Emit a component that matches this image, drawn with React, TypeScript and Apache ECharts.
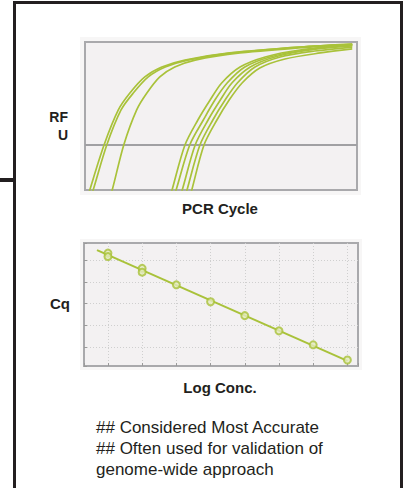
import React, { useEffect, useRef } from "react";
import * as echarts from "echarts";

// Amplification curves: [PCR cycle, RFU]
const curveG1a = [[0.3, -6.8], [0.7, 0], [2.8, 30.4], [4.9, 54.1], [6.6, 65.5], [8.8, 76.4], [11.3, 83.1], [14.7, 87.8], [21.3, 92.6], [31.6, 96.6], [39.3, 98.6]];
const curveG1b = [[0.7, -6.8], [1.2, 0], [3.2, 30.4], [5.3, 54.1], [7.1, 65.5], [9.3, 76.4], [11.8, 83.1], [15.1, 87.8], [21.6, 92.6], [31.6, 96.6], [39.3, 98.6]];
const curveG1c = [[3.5, -6.8], [4.0, 0], [5.7, 30.4], [7.6, 54.1], [9.1, 65.5], [11.0, 76.4], [13.2, 83.1], [16.2, 87.8], [22.8, 92.6], [33.1, 96.6], [39.3, 98.0]];
const curveG2a = [[12.4, -6.8], [12.8, 0], [14.7, 30.4], [16.6, 47.3], [18.4, 60.8], [20.1, 72.3], [22.8, 83.1], [26.5, 89.9], [31.6, 94.6], [39.3, 98.0]];
const curveG2b = [[12.9, -6.8], [13.4, 0], [15.4, 30.4], [17.4, 47.3], [19.1, 60.8], [20.9, 72.3], [23.5, 83.1], [27.2, 89.9], [32.4, 94.6], [39.3, 98.0]];
const curveG2c = [[13.8, -6.8], [14.3, 0], [16.2, 30.4], [18.1, 47.3], [19.9, 60.8], [21.6, 72.3], [24.3, 83.1], [27.9, 89.9], [33.1, 94.6], [39.3, 97.3]];
const curveG2d = [[14.6, -6.8], [15.0, 0], [16.9, 30.4], [18.8, 47.3], [20.6, 60.8], [22.4, 72.3], [25.0, 83.1], [28.7, 89.9], [33.8, 93.9], [39.3, 96.6]];
const curveG2e = [[15.3, -6.8], [15.7, 0], [17.5, 30.4], [19.4, 47.3], [21.2, 60.8], [23.1, 72.3], [25.7, 82.4], [29.4, 88.5], [34.6, 92.6], [39.3, 95.3]];
const curves = [curveG1a, curveG1b, curveG1c, curveG2a, curveG2b, curveG2c, curveG2d, curveG2e];
const thresholdRFU = 30.4;

// Standard curve: log concentration vs Cq
const logConc = [1, 1, 2, 2, 3, 4, 5, 6, 7, 8];
const cqValues = [31.6, 30.8, 28.1, 27.2, 24.3, 20.4, 17.2, 13.7, 10.5, 7.0];
const fitX = [0.68, 8];
const fitY = [32.3, 6.8];

const textLines = [
  "## Considered Most Accurate",
  "## Often used for validation of",
  "genome-wide approach",
];

const GREEN = "#a9c23a";
const FONT = "'Liberation Sans', Arial, Helvetica, sans-serif";

export default function App() {
  const ref = useRef<HTMLDivElement>(null);
  useEffect(() => {
    const chart = echarts.init(ref.current!, null, { renderer: "svg" });
    const curveSeries = curves.map((c) => ({
      type: "line",
      xAxisIndex: 0,
      yAxisIndex: 0,
      data: c,
      smooth: 0.3,
      symbol: "none",
      clip: true,
      lineStyle: { color: GREEN, width: 1.7 },
      z: 3,
    }));
    chart.setOption({
      animation: false,
      backgroundColor: "#ffffff",
      grid: [
        { left: 85, top: 42, width: 272, height: 148, show: true, backgroundColor: "#f3f1f2", borderColor: "#a9a9ac", borderWidth: 2 },
        { left: 84, top: 243, width: 274, height: 123, show: true, backgroundColor: "#f3f1f2", borderColor: "#a9a9ac", borderWidth: 2 },
      ],
      xAxis: [
        { type: "value", gridIndex: 0, min: 0, max: 40, show: false },
        {
          type: "value", gridIndex: 1, min: 0.3, max: 8.31, minInterval: 1, maxInterval: 1,
          axisLine: { show: false }, axisLabel: { show: false },
          axisTick: { show: true, inside: true, length: 3, lineStyle: { color: "#9a9a9a" } },
          splitLine: { show: true, showMinLine: false, showMaxLine: false, lineStyle: { color: "#cfcfcf", type: [1, 2], width: 1 } },
        },
      ],
      yAxis: [
        { type: "value", gridIndex: 0, min: 0, max: 100, show: false },
        {
          type: "value", gridIndex: 1, min: 5.62, max: 33.92, minInterval: 5, maxInterval: 5,
          axisLine: { show: false }, axisLabel: { show: false },
          axisTick: { show: true, inside: true, length: 3, lineStyle: { color: "#9a9a9a" } },
          splitLine: { show: true, showMinLine: false, showMaxLine: false, lineStyle: { color: "#cfcfcf", type: [1, 2], width: 1 } },
        },
      ],
      series: [
        {
          type: "line", xAxisIndex: 0, yAxisIndex: 0,
          data: [[0, thresholdRFU], [40, thresholdRFU]],
          symbol: "none", lineStyle: { color: "#a0a0a3", width: 2 }, z: 2,
        },
        ...curveSeries,
        {
          type: "line", xAxisIndex: 1, yAxisIndex: 1,
          data: fitX.map((x, i) => [x, fitY[i]]),
          symbol: "none", lineStyle: { color: GREEN, width: 2 }, z: 3,
        },
        {
          type: "scatter", xAxisIndex: 1, yAxisIndex: 1,
          data: logConc.map((x, i) => [x, cqValues[i]]),
          symbol: "circle", symbolSize: 7,
          itemStyle: { color: "#e4ebbd", borderColor: GREEN, borderWidth: 2 },
          z: 4,
        },
      ],
      graphic: {
        elements: [
          { type: "rect", z: -10, shape: { x: 80, y: 37, width: 281, height: 158 }, style: { fill: "#f7f6f6" } },
          { type: "rect", z: -10, shape: { x: 80, y: 239, width: 282, height: 131 }, style: { fill: "#f7f6f6" } },
          { type: "polyline", z: 10, shape: { points: [[14.5, 490], [14.5, 2.5], [401.5, 2.5], [401.5, 490]] }, style: { stroke: "#231f20", lineWidth: 3, fill: null } },
          { type: "line", z: 10, shape: { x1: 0, y1: 180, x2: 14, y2: 180 }, style: { stroke: "#231f20", lineWidth: 4 } },
          { type: "text", x: 68, y: 126, style: { text: "RF\nU", textAlign: "right", textVerticalAlign: "middle", font: `bold 14px ${FONT}`, lineHeight: 18, fill: "#231f20" } },
          { type: "text", x: 220, y: 208, style: { text: "PCR Cycle", textAlign: "center", textVerticalAlign: "middle", font: `bold 15px ${FONT}`, fill: "#231f20" } },
          { type: "text", x: 50, y: 303, style: { text: "Cq", textAlign: "left", textVerticalAlign: "middle", font: `bold 15px ${FONT}`, fill: "#231f20" } },
          { type: "text", x: 220, y: 387, style: { text: "Log Conc.", textAlign: "center", textVerticalAlign: "middle", font: `bold 15px ${FONT}`, fill: "#231f20" } },
          { type: "text", x: 96, y: 448, style: { text: textLines.join("\n"), textAlign: "left", textVerticalAlign: "middle", font: `17px ${FONT}`, lineHeight: 21, fill: "#231f20" } },
        ],
      },
    });
    return () => chart.dispose();
  }, []);
  return (
    <div
      ref={ref}
      style={{ position: "absolute", left: 0, top: 0, width: 404, height: 488, background: "#fff" }}
    />
  );
}
